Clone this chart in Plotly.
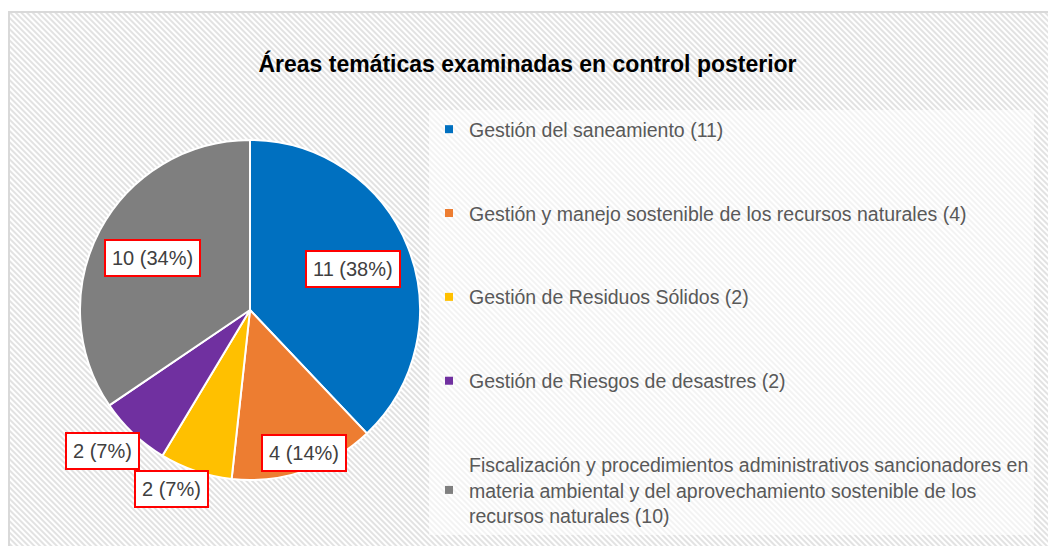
import math
import base64
import plotly.graph_objects as go

W, H = 1056, 546
OFF = 8  # page body margin shifts the figure by 8px

categorias = [
    "Gestión del saneamiento",
    "Gestión y manejo sostenible de los recursos naturales",
    "Gestión de Residuos Sólidos",
    "Gestión de Riesgos de desastres",
    "Fiscalización y procedimientos administrativos sancionadores en<br>materia ambiental y del aprovechamiento sostenible de los<br>recursos naturales",
]
valores = [11, 4, 2, 2, 10]
colores = ["#0070C0", "#ED7D31", "#FFC000", "#7030A0", "#7F7F7F"]

# label placement (fraction of radius, angular nudge in degrees)
label_r = [0.65, 0.9, 1.15, 1.2, 0.65]
label_nudge = [0, -2, 5, 3, 0]

FONT = "Liberation Sans, Arial, sans-serif"

# pie geometry in pixels (figure coordinates)
cx, cy, rad = 250 - OFF, 310 - OFF, 170

fig = go.Figure()
fig.add_trace(
    go.Pie(
        labels=categorias,
        values=valores,
        sort=False,
        direction="clockwise",
        rotation=0,
        marker=dict(colors=colores, line=dict(color="white", width=2)),
        textinfo="none",
        hoverinfo="label+value+percent",
        showlegend=False,
        domain=dict(
            x=[(cx - rad) / W, (cx + rad) / W],
            y=[1 - (cy + rad) / H, 1 - (cy - rad) / H],
        ),
    )
)

# legend entries
for i, (cat, val, col) in enumerate(zip(categorias, valores, colores)):
    fig.add_trace(
        go.Scatter(
            x=[None],
            y=[None],
            mode="markers",
            marker=dict(symbol="square", size=8, color=col),
            name=f"{cat} ({val})",
            legendgroup=f"g{i}",
            showlegend=True,
        )
    )

# boxed data labels
total = sum(valores)
acum = 0
annotations = []
for i, v in enumerate(valores):
    mid = (acum + v / 2) / total * 360 + label_nudge[i]
    acum += v
    d = rad * label_r[i]
    px_ = cx + d * math.sin(math.radians(mid))
    py_ = cy - d * math.cos(math.radians(mid))
    pct = round(v / total * 100)
    annotations.append(
        dict(
            x=px_ / W,
            y=1 - py_ / H,
            xref="paper",
            yref="paper",
            xanchor="center",
            yanchor="middle",
            text=f"{v} ({pct}%)",
            showarrow=False,
            font=dict(family=FONT, size=20, color="#404040"),
            bgcolor="white",
            bordercolor="#FF0000",
            borderwidth=2,
            borderpad=6,
        )
    )

# hatched chart-area background
svg = (
    f'<svg xmlns="http://www.w3.org/2000/svg" width="{W}" height="{H}">'
    '<defs><pattern id="h" width="4" height="4" patternUnits="userSpaceOnUse" '
    'patternTransform="rotate(-45)"><rect width="4" height="4" fill="#ffffff"/>'
    '<rect width="2" height="4" fill="#e2e2e2"/></pattern></defs>'
    '<rect width="100%" height="100%" fill="url(#h)"/></svg>'
)
src = "data:image/svg+xml;base64," + base64.b64encode(svg.encode()).decode()

fig.update_layout(
    width=W,
    height=H,
    margin=dict(l=0, r=0, t=0, b=0),
    paper_bgcolor="white",
    plot_bgcolor="rgba(0,0,0,0)",
    xaxis=dict(visible=False),
    yaxis=dict(visible=False),
    title=dict(
        text="<b>Áreas temáticas examinadas en control posterior</b>",
        font=dict(family=FONT, size=23, color="black"),
        x=(527.5 - OFF) / W,
        xanchor="center",
        y=1 - (64 - OFF) / H,
        yanchor="middle",
    ),
    legend=dict(
        x=(429 - OFF) / W,
        y=1 - (110 - OFF) / H,
        xanchor="left",
        yanchor="top",
        bgcolor="rgba(255,255,255,0.6)",
        font=dict(family=FONT, size=19.5, color="#595959"),
        tracegroupgap=55.5,
        itemclick=False,
    ),
    images=[
        dict(
            source=src,
            xref="paper",
            yref="paper",
            x=1 / W,
            y=1 - 5 / H,
            sizex=1,
            sizey=1,
            sizing="stretch",
            layer="below",
            xanchor="left",
            yanchor="top",
        )
    ],
    shapes=[
        dict(
            type="rect",
            xref="paper",
            yref="paper",
            x0=1 / W,
            x1=1.05,
            y0=-0.05,
            y1=1 - 4 / H,
            line=dict(color="#d9d9d9", width=2),
            layer="below",
        )
    ],
    annotations=annotations,
    hovermode="closest",
)

fig.write_html("out.html")
